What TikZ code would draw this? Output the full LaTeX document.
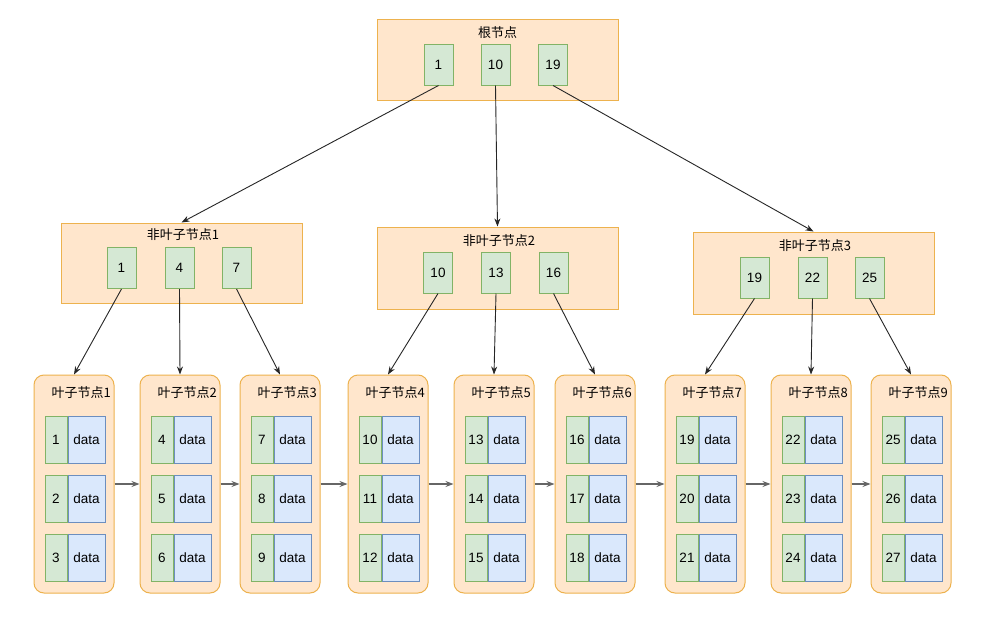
\documentclass[tikz,border=0pt]{standalone}
\usepackage{fontspec}
\setmainfont{Liberation Sans}
\newfontfamily\cjk{Noto Sans CJK SC}
\usetikzlibrary{arrows.meta,positioning}
\definecolor{nodefill}{HTML}{FFE6CC}
\definecolor{nodeline}{HTML}{EDB24E}
\definecolor{keyfill}{HTML}{D5E8D4}
\definecolor{keyline}{HTML}{82B366}
\definecolor{datafill}{HTML}{DAE8FC}
\definecolor{dataline}{HTML}{6C8EBF}

\begin{document}
\begin{tikzpicture}[x=1pt,y=-1pt,
		box/.style={draw=nodeline,fill=nodefill,line width=1pt,minimum width=241pt,inner sep=0pt},
		leafbox/.style={box,rounded corners=10pt,minimum width=80pt,minimum height=218pt},
		keybox/.style={draw=keyline,fill=keyfill,line width=1pt,minimum width=29pt,minimum height=41pt,inner sep=0pt,font=\fontsize{13.5}{15}\selectfont},
		leafkey/.style={keybox,minimum width=22pt,minimum height=47pt},
		leafdata/.style={leafkey,draw=dataline,fill=datafill,minimum width=37pt},
		title/.style={inner sep=0pt,font=\cjk\fontsize{13}{15}\selectfont},
		link/.style={draw=black!85,line width=0.9pt,-{Stealth[length=8pt,width=6pt]}},
		chain/.style={link,draw=black!60,line width=1.1pt}]
		\fill[white] (0,0) rectangle (994,629);
		\useasboundingbox (0,0) rectangle (994,629);
		% root
		\node[box,minimum height=81pt] (root) at (497.5,59.5) {};
		\node[title] (root-t) at (497.5,33) {根节点};
		\foreach \x/\k in {438.5/1,495.5/10,553/19}
			\node[keybox] (root-k\k) at (\x,64.5) {\k};
		% non-leaf nodes
		\node[box,minimum height=80pt] (nl1) at (181.5,263) {};
		\node[title] (nl1-t) at (183,235) {非叶子节点1};
		\foreach \x/\k in {121.5/1,179.5/4,236.5/7}
			\node[keybox] (nl1-k\k) at (\x,268) {\k};
		\node[box,minimum height=82pt] (nl2) at (497.5,268) {};
		\node[title] (nl2-t) at (499,241) {非叶子节点2};
		\foreach \x/\k in {438/10,496/13,553.5/16}
			\node[keybox] (nl2-k\k) at (\x,272.5) {\k};
		\node[box,minimum height=82pt] (nl3) at (813.5,273) {};
		\node[title] (nl3-t) at (815,246) {非叶子节点3};
		\foreach \x/\k in {754.5/19,812.5/22,869.5/25}
			\node[keybox] (nl3-k\k) at (\x,277.5) {\k};
		% leaves
		\foreach \x [count=\i] in {74,180,280,388,494,595,705,811,911} {
			\node[leafbox] (leaf\i) at (\x,484) {};
			\node[title,anchor=east] (leaf\i-t) at (\x+37,393) {叶子节点\i};
			\foreach \y [count=\j] in {439.5,498.5,558} {
				\pgfmathtruncatemacro\k{3*(\i-1)+\j}
				\node[leafkey] (leaf\i-k\j) at (\x-18,\y) {\k};
				\node[leafdata,right=0pt of leaf\i-k\j] (leaf\i-d\j) {data};
			}
		}
		\foreach \i [evaluate=\i as \n using int(\i+1)] in {1,...,8}
			\draw[chain] (leaf\i) -- (leaf\n);
		% pointers
		\draw[link] (root-k1.south) -- (nl1.north);
		\draw[link] (root-k10.south) -- (nl2.north);
		\draw[link] (root-k19.south) -- (nl3.north);
		\draw[link] (nl1-k1.south) -- (leaf1.north);
		\draw[link] (nl1-k4.south) -- (leaf2.north);
		\draw[link] (nl1-k7.south) -- (leaf3.north);
		\draw[link] (nl2-k10.south) -- (leaf4.north);
		\draw[link] (nl2-k13.south) -- (leaf5.north);
		\draw[link] (nl2-k16.south) -- (leaf6.north);
		\draw[link] (nl3-k19.south) -- (leaf7.north);
		\draw[link] (nl3-k22.south) -- (leaf8.north);
		\draw[link] (nl3-k25.south) -- (leaf9.north);
	\end{tikzpicture}
\end{document}
